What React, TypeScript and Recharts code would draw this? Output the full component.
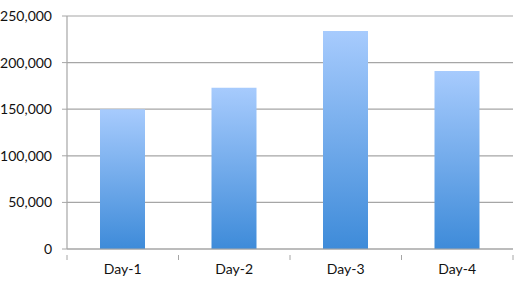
import { Bar, BarChart, CartesianGrid, XAxis, YAxis } from "recharts"

const days = ["Day-1", "Day-2", "Day-3", "Day-4"]
const values = [150000, 173000, 234000, 191000]
const yTicks = [0, 50000, 100000, 150000, 200000, 250000]

const data = days.map((day, i) => ({ day, value: values[i] }))

const AXIS = "#a6a6a6"
const FONT = "Lato, 'Open Sans', sans-serif"
const TEXT = { fill: "#111", fontSize: 14, fontFamily: FONT }

// Category label with tick marks on the band edges (between categories), Excel style.
const DayTick = (props: any) => {
  const { x, y, payload, index } = props
  const half = payload?.offset ?? 0
  const axisY = y - 9
  const isLast = index === days.length - 1
  return (
    <g>
      <line x1={x - half} x2={x - half} y1={axisY} y2={axisY + 5} stroke={AXIS} />
      {isLast && (
        <line x1={x + half} x2={x + half} y1={axisY} y2={axisY + 5} stroke={AXIS} />
      )}
      <text x={x} y={y} dy="0.71em" textAnchor="middle" {...TEXT}>
        {payload.value}
      </text>
    </g>
  )
}

export default function App() {
  return (
    <div style={{ position: "absolute", left: 0, top: 0, background: "#fff" }}>
      <BarChart
        width={517}
        height={285}
        data={data}
        margin={{ top: 16, right: 4, left: 0, bottom: 0 }}
      >
        <defs>
          <linearGradient id="barFill" x1="0" y1="0" x2="0" y2="1">
            <stop offset="0%" stopColor="#a7cbfd" />
            <stop offset="100%" stopColor="#3e8bd9" />
          </linearGradient>
        </defs>
        <CartesianGrid vertical={false} stroke={AXIS} strokeWidth={1.2} />
        <XAxis
          dataKey="day"
          height={36}
          tickLine={false}
          axisLine={{ stroke: AXIS, strokeWidth: 1.2 }}
          tick={<DayTick />}
          tickMargin={9}
          interval={0}
        />
        <YAxis
          width={67}
          domain={[0, 250000]}
          ticks={yTicks}
          interval={0}
          tickSize={5}
          tickMargin={10}
          tickLine={{ stroke: AXIS }}
          axisLine={{ stroke: AXIS, strokeWidth: 1.2 }}
          tick={TEXT}
          tickFormatter={(v: number) => v.toLocaleString("en-US")}
        />
        <Bar dataKey="value" barSize={45} fill="url(#barFill)" isAnimationActive={false} />
      </BarChart>
    </div>
  )
}
